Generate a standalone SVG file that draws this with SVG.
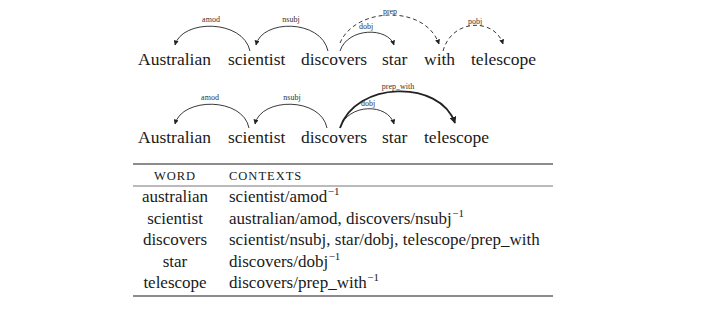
<svg xmlns="http://www.w3.org/2000/svg" width="720" height="310" viewBox="0 0 720 310">
<style>
.w{font-family:"Liberation Serif","Times New Roman",serif;font-size:17.5px;fill:#1a1a1a}
.lb{font-family:"Liberation Serif","Times New Roman",serif;font-size:8px;fill:#333;text-anchor:middle}
.arc{fill:none;stroke:#222;stroke-width:0.9}
.dash{stroke-dasharray:4 3}
.thick{stroke-width:1.8}
.t{font-family:"Liberation Serif","Times New Roman",serif;font-size:17px;fill:#1a1a1a}
.c{text-anchor:middle}
.h{font-family:"Liberation Serif","Times New Roman",serif;font-size:12.5px;letter-spacing:1px;fill:#1a1a1a}
.rule{stroke:#666}
.sup{font-size:11px}
</style>
<defs>
<marker id="ah" viewBox="0 0 10 10" refX="9" refY="5" markerWidth="5" markerHeight="5" markerUnits="userSpaceOnUse" orient="auto">
<path d="M0,0 L10,5 L0,10 z" fill="#222"/>
</marker>
<marker id="ahb" viewBox="0 0 10 10" refX="9" refY="5" markerWidth="7" markerHeight="7" markerUnits="userSpaceOnUse" orient="auto">
<path d="M0,0 L10,5 L0,10 z" fill="#222"/>
</marker>
</defs>
<g id="sentence1">
<g id="s1-australian"><text class="w" x="138" y="65">Australian</text></g>
<g id="s1-scientist"><text class="w" x="228" y="65">scientist</text></g>
<g id="s1-discovers"><text class="w" x="301" y="65">discovers</text></g>
<g id="s1-star"><text class="w" x="382" y="65">star</text></g>
<g id="s1-with"><text class="w" x="424" y="65">with</text></g>
<g id="s1-telescope"><text class="w" x="471" y="65">telescope</text></g>
</g>
<g id="connectors1">
<path class="arc" d="M250,51 C243,19 182,19 175,45" marker-end="url(#ah)"/>
<path class="arc" d="M328,51 C321,19 262,19 256,45" marker-end="url(#ah)"/>
<path class="arc" d="M340,51 C348,27 388,27 394,45" marker-end="url(#ah)"/>
<path class="arc dash" d="M340,43 C355,7 425,4 439,44" marker-end="url(#ah)"/>
<path class="arc dash" d="M443,51 C452,18 495,18 503,44" marker-end="url(#ah)"/>
<text class="lb" x="211" y="22">amod</text>
<text class="lb" x="291" y="22">nsubj</text>
<text class="lb" x="366" y="29">dobj</text>
<text class="lb" x="390" y="14">prep</text>
<text class="lb" x="475" y="24">pobj</text>
</g>
<g id="sentence2">
<g id="s2-australian"><text class="w" x="138" y="143">Australian</text></g>
<g id="s2-scientist"><text class="w" x="228" y="143">scientist</text></g>
<g id="s2-discovers"><text class="w" x="301" y="143">discovers</text></g>
<g id="s2-star"><text class="w" x="382" y="143">star</text></g>
<g id="s2-telescope"><text class="w" x="424" y="143">telescope</text></g>
</g>
<g id="connectors2">
<path class="arc" d="M249,128 C243,97 182,97 175,124" marker-end="url(#ah)"/>
<path class="arc" d="M327,128 C321,97 261,97 255,124" marker-end="url(#ah)"/>
<path class="arc" d="M340,128 C348,103 388,103 394,124" marker-end="url(#ah)"/>
<path class="arc thick" d="M340,128 C355,81 440,79 455,123" marker-end="url(#ahb)"/>
<text class="lb" x="210" y="100">amod</text>
<text class="lb" x="292" y="100">nsubj</text>
<text class="lb" x="368" y="106">dobj</text>
<text class="lb" x="398" y="89">prep_with</text>
</g>
<g id="table">
<line class="rule" x1="133" y1="164" x2="553" y2="164" stroke-width="1.3"/>
<line class="rule" x1="133" y1="186" x2="553" y2="186" stroke-width="0.9"/>
<line class="rule" x1="133" y1="296" x2="553" y2="296" stroke-width="1.3"/>
<text class="h c" x="175" y="180">WORD</text>
<text class="h" x="229" y="180">CONTEXTS</text>
<text class="t c" x="175" y="202">australian</text>
<text class="t" x="229" y="202">scientist/amod<tspan class="sup" dx="0.5" dy="-7">−1</tspan></text>
<text class="t c" x="175" y="223.5">scientist</text>
<text class="t" x="229" y="223.5">australian/amod, discovers/nsubj<tspan class="sup" dx="0.5" dy="-7">−1</tspan></text>
<text class="t c" x="175" y="245">discovers</text>
<text class="t" x="229" y="245">scientist/nsubj, star/dobj, telescope/prep_with</text>
<text class="t c" x="175" y="266.5">star</text>
<text class="t" x="229" y="266.5">discovers/dobj<tspan class="sup" dx="0.5" dy="-7">−1</tspan></text>
<text class="t c" x="175" y="288">telescope</text>
<text class="t" x="229" y="288">discovers/prep_with<tspan class="sup" dx="0.5" dy="-7">−1</tspan></text>
</g>
</svg>
